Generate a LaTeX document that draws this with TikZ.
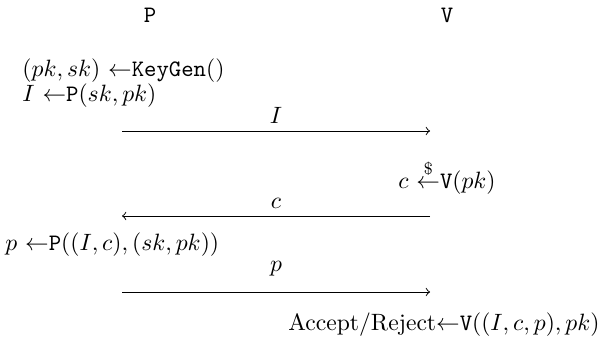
\documentclass[tikz,border=0pt]{standalone}
\usepackage{amsmath}
\begin{document}
\begin{tikzpicture}[x=0.4237pt,y=-0.4237pt,
  lbl/.style={inner sep=0pt},
  msg/.style={->,line width=0.4pt}]
\useasboundingbox (0,0) rectangle (605,345);
\node[lbl] (P) at (150,15) {\texttt{P}};
\node[lbl] (V) at (447,15) {\texttt{V}};
\node[lbl,anchor=west] (kg) at (22,71) {$(pk,sk)$ $\leftarrow$\texttt{KeyGen}()};
\node[lbl,anchor=west] (pi) at (22,96) {$I$ $\leftarrow$$\mathtt{P}(sk,pk)$};
\coordinate (a1s) at (122,131);
\coordinate (a1e) at (430,131);
\draw[msg] (a1s) -- node[lbl,above=3pt] (lI) {$I$} (a1e);
\node[lbl,anchor=base] (vc) at (447,188) {$c$ $\stackrel{\$}{\leftarrow}$$\mathtt{V}(pk)$};
\coordinate (a2s) at (430,216);
\coordinate (a2e) at (122,216);
\draw[msg] (a2s) -- node[lbl,above=3pt] (lc) {$c$} (a2e);
\node[lbl,anchor=west] (pp) at (5,245) {$p$ $\leftarrow$$\mathtt{P}((I,c),(sk,pk))$};
\coordinate (a3s) at (122,292);
\coordinate (a3e) at (430,292);
\draw[msg] (a3s) -- node[lbl,above=6.5pt] (lp) {$p$} (a3e);
\node[lbl,anchor=east] (acc) at (600,325) {Accept/Reject$\leftarrow$$\mathtt{V}((I,c,p),pk)$};
\end{tikzpicture}
\end{document}
